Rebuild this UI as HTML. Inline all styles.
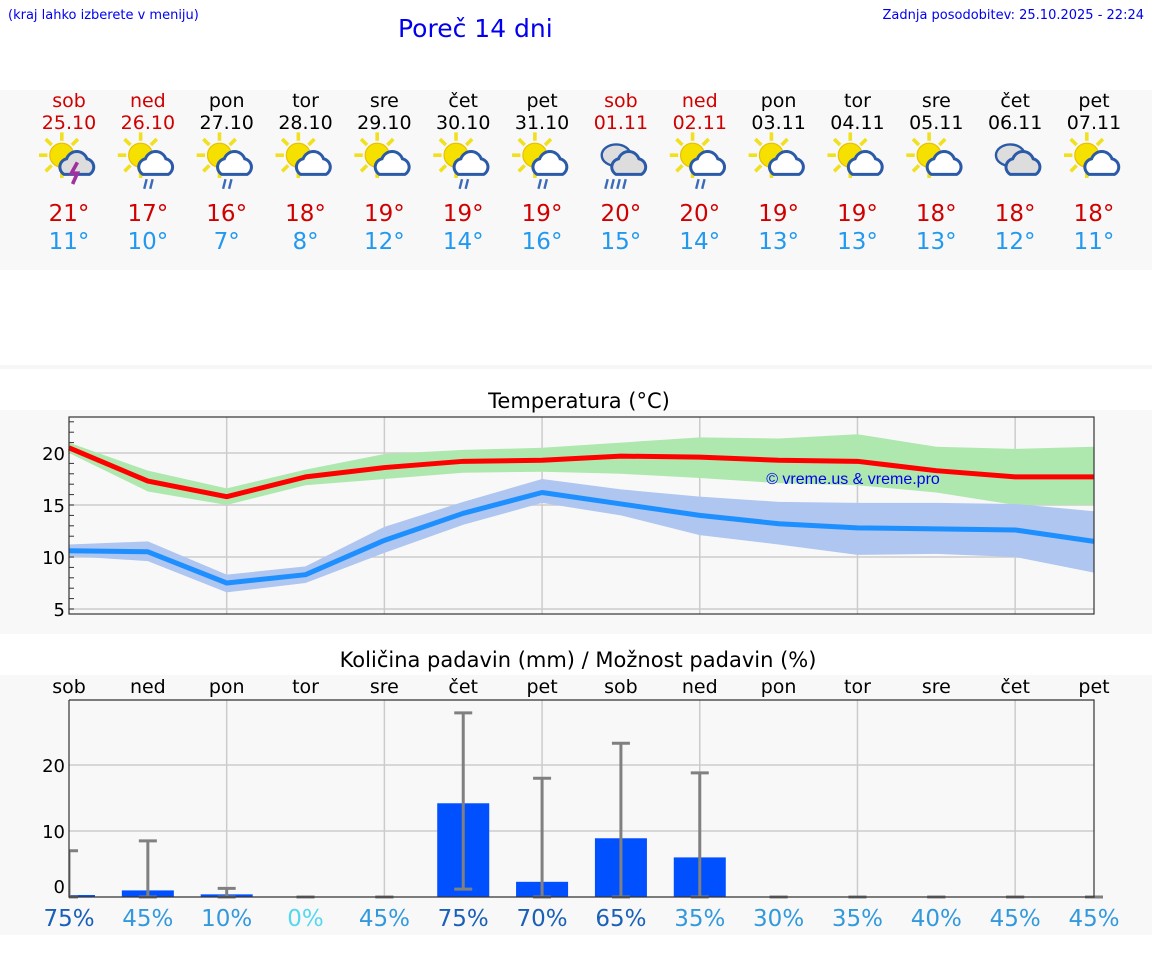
<!DOCTYPE html>
<html><head><meta charset="utf-8"><style>
body{margin:0;width:1152px;height:975px;background:#fff;font-family:"DejaVu Sans","Liberation Sans",sans-serif;position:relative;overflow:hidden}
.abs{position:absolute}
</style></head><body>
<div class="abs" style="left:8px;top:8px;font-size:13px;color:#0000ee;font-family:'DejaVu Sans',sans-serif">(kraj lahko izberete v meniju)</div>
<div class="abs" style="left:398px;top:14px;font-size:25px;color:#0000ee;font-family:'DejaVu Sans',sans-serif">Poreč 14 dni</div>
<div class="abs" style="right:8px;top:8px;font-size:13px;color:#0000ee;font-family:'DejaVu Sans',sans-serif">Zadnja posodobitev: 25.10.2025 - 22:24</div>
<div class="abs" style="left:0;top:90px;width:1152px;height:180px;background:#f8f8f8"></div>
<div class="abs" style="left:0;top:365px;width:1152px;height:4px;background:#f6f6f6"></div>
<div class="abs" style="left:0;top:410px;width:1152px;height:224px;background:#f8f8f8"></div>
<div class="abs" style="left:0;top:675px;width:1152px;height:260px;background:#f8f8f8"></div>
<svg id="svg" class="abs" style="left:0;top:0" width="1152" height="975"></svg>
<script>
const days=["sob","ned","pon","tor","sre","čet","pet","sob","ned","pon","tor","sre","čet","pet"];
const dates=["25.10","26.10","27.10","28.10","29.10","30.10","31.10","01.11","02.11","03.11","04.11","05.11","06.11","07.11"];
const weekend=[1,1,0,0,0,0,0,1,1,0,0,0,0,0];
const hiT=[21,17,16,18,19,19,19,20,20,19,19,18,18,18];
const loT=[11,10,7,8,12,14,16,15,14,13,13,13,12,11];
const icons=["storm","rain","rain","cloud","cloud","rain","rain","rainheavy","rain","cloud","cloud","cloud","overcast","cloud"];
const maxLine=[20.5,17.3,15.8,17.7,18.6,19.2,19.3,19.7,19.6,19.3,19.2,18.3,17.7,17.7];
const maxHi=[21,18.3,16.6,18.4,19.9,20.3,20.5,21.0,21.5,21.4,21.8,20.6,20.4,20.6];
const maxLo=[20,16.3,15.0,16.9,17.5,18.1,18.2,18.0,17.6,17.1,16.9,16.2,15.0,15.0];
const minLine=[10.6,10.5,7.5,8.3,11.6,14.2,16.2,15.1,14.0,13.2,12.8,12.7,12.6,11.5];
const minHi=[11.2,11.5,8.3,9.1,12.9,15.3,17.5,16.5,15.8,15.3,15.2,15.2,15.1,14.4];
const minLo=[10.1,9.6,6.6,7.5,10.4,13.1,15.2,14.0,12.1,11.2,10.2,10.3,10.0,8.5];
const tTicks=[5,10,15,20];
const precip=[0.3,1,0.4,0,0,14.2,2.3,8.9,6,0,0,0,0,0];
const pHi=[7,8.5,1.3,0,0,27.9,18,23.3,18.8,0,0,0,0,0];
const pLo=[0,0,0,0,0,1.2,0,0,0,0,0,0,0,0];
const prob=[75,45,10,0,45,75,70,65,35,30,35,40,45,45];
const pTicks=[0,10,20];
const NS="http://www.w3.org/2000/svg";
const svg=document.getElementById('svg');
function el(t,a,p){const e=document.createElementNS(NS,t);for(const k in a)e.setAttribute(k,a[k]);(p||svg).appendChild(e);return e;}
function txt(x,y,s,a){const e=el('text',Object.assign({x:x,y:y,'text-anchor':'middle','font-size':20,fill:'#000'},a));e.textContent=s;return e;}
const X0=69,X1=1094;
const xd=i=>X0+i*(X1-X0)/13;
const yT=v=>453+(20-v)*10.4;
const yP=v=>897-v*6.6;
for(let i=0;i<14;i++){
 const x=xd(i);const c=weekend[i]?'#d00000':'#000';
 let t=txt(x,107,days[i],{fill:c,'font-size':19});
 
 t=txt(x,129,dates[i],{fill:c,'font-size':19});
 
 t=txt(x,221,hiT[i]+'°',{fill:'#d00000','font-size':23});
 
 t=txt(x,249,loT[i]+'°',{fill:'#2299ee','font-size':23});
 
 const g=el('g',{transform:`translate(${x},160) scale(1.2)`});
 
 const ic=icons[i];
 if(ic!=='overcast'&&ic!=='rainheavy'){
  const sx=-6,sy=-4;
  for(let k=0;k<8;k++){const a=k*Math.PI/4;el('line',{x1:sx+Math.cos(a)*12,y1:sy+Math.sin(a)*12,x2:sx+Math.cos(a)*19,y2:sy+Math.sin(a)*19,stroke:'#f0e020','stroke-width':3},g);}
  el('circle',{cx:sx,cy:sy,r:10,fill:'#f5e000',stroke:'#e8c000'},g);
 }
 const cf=ic==='storm'||ic==='overcast'||ic==='rainheavy'?'#ddd':'#fff';
 if(ic==='overcast'||ic==='rainheavy'){el('ellipse',{cx:-4,cy:-4,rx:12,ry:9,fill:'#ddd',stroke:'#2a5aa8','stroke-width':2},g);}
 el('path',{d:'M-4 12 a7 7 0 0 1 2-13 a9 9 0 0 1 17 0 a7 7 0 0 1 2 13 z',fill:cf,stroke:'#2a5aa8','stroke-width':2.5},g);
 if(ic==='storm')el('path',{d:'M7 2 l-5 9 h5 l-4 9',fill:'none',stroke:'#a030a0','stroke-width':3},g);
 if(ic.startsWith('rain')){const n=ic==='rainheavy'?4:2;for(let k=0;k<n;k++)el('line',{x1:-1+k*5-(n-2)*5,y1:16,x2:-3+k*5-(n-2)*5,y2:24,stroke:'#3a6ab8','stroke-width':2},g);}
}
txt(579,408,'Temperatura (°C)',{'font-size':21,});
const tg=el('g',{});
el('rect',{x:X0,y:417,width:X1-X0,height:197,fill:'#f8f8f8'},tg);
for(const v of tTicks){el('line',{x1:X0,x2:X1,y1:yT(v),y2:yT(v),stroke:'#ccc','stroke-width':1.5},tg);
 const t=txt(X0-4,yT(v)+7,v,{'text-anchor':'end','font-size':18},tg);}
for(let v=5;v<=23;v++)el('line',{x1:X0,x2:X0+5,y1:yT(v),y2:yT(v),stroke:'#333'},tg);
for(let i=2;i<13;i+=2)el('line',{x1:xd(i),x2:xd(i),y1:417,y2:614,stroke:'#ccc','stroke-width':1.5},tg);
function band(hi,lo,col,name){let d='';hi.forEach((v,i)=>d+=(i?'L':'M')+xd(i)+' '+yT(v));for(let i=lo.length-1;i>=0;i--)d+='L'+xd(i)+' '+yT(lo[i]);const p=el('path',{d:d+'Z',fill:col},tg);}
function line(a,col,name){const p=el('polyline',{points:a.map((v,i)=>xd(i)+','+yT(v)).join(' '),fill:'none',stroke:col,'stroke-width':5,'stroke-linejoin':'round'},tg);}
band(maxHi,maxLo,'#aee8ae','max-temp-range');band(minHi,minLo,'#aec6f0','min-temp-range');
line(maxLine,'#ff0000','max-temp-line');line(minLine,'#1e8fff','min-temp-line');
el('rect',{x:X0,y:417,width:X1-X0,height:197,fill:'none',stroke:'#333','stroke-width':1.2},tg);
let w=txt(853,484,'© vreme.us & vreme.pro',{fill:'#0000ee','font-size':16,'font-family':'Liberation Sans'});
txt(578,667,'Količina padavin (mm) / Možnost padavin (%)',{'font-size':21,});
const pg=el('g',{});
for(let i=0;i<14;i++){const t=txt(xd(i),693,days[i],{'font-size':19},pg);}
for(const v of pTicks){if(v>0)el('line',{x1:X0,x2:X1,y1:yP(v),y2:yP(v),stroke:'#ccc','stroke-width':1.5},pg);
 const t=txt(X0-4,yP(v)+7-(v===0?11:0),v,{'text-anchor':'end','font-size':18},pg);}
for(let i=2;i<13;i+=2)el('line',{x1:xd(i),x2:xd(i),y1:700,y2:897,stroke:'#ccc','stroke-width':1.5},pg);
const clip=el('clipPath',{id:'pc'},pg);el('rect',{x:X0,y:690,width:X1-X0+10,height:210},clip);
const cg=el('g',{'clip-path':'url(#pc)'},pg);
for(let i=0;i<14;i++){
 const x=xd(i);
 if(precip[i]>0){const r=el('rect',{x:x-26,y:yP(precip[i]),width:52,height:897-yP(precip[i]),fill:'#0050ff'},cg);}
 const e=el('g',{},cg);
 el('line',{x1:x,x2:x,y1:yP(pHi[i]),y2:yP(pLo[i]),stroke:'#808080','stroke-width':3},e);
 el('line',{x1:x-9,x2:x+9,y1:yP(pHi[i]),y2:yP(pHi[i]),stroke:'#808080','stroke-width':3},e);
 el('line',{x1:x-9,x2:x+9,y1:yP(pLo[i]),y2:yP(pLo[i]),stroke:'#808080','stroke-width':3},e);
 const pc=prob[i]>=60?'#1a60b8':prob[i]>=10?'#3399dd':'#55d8ee';
 const t=txt(x,926,prob[i]+'%',{fill:pc,'font-size':23},pg);
}
el('polyline',{points:`${X0},700 ${X0},897 ${X1},897 ${X1},700 ${X0},700`,fill:'none',stroke:'#333','stroke-width':1.2},pg);
</script>
</body></html>
